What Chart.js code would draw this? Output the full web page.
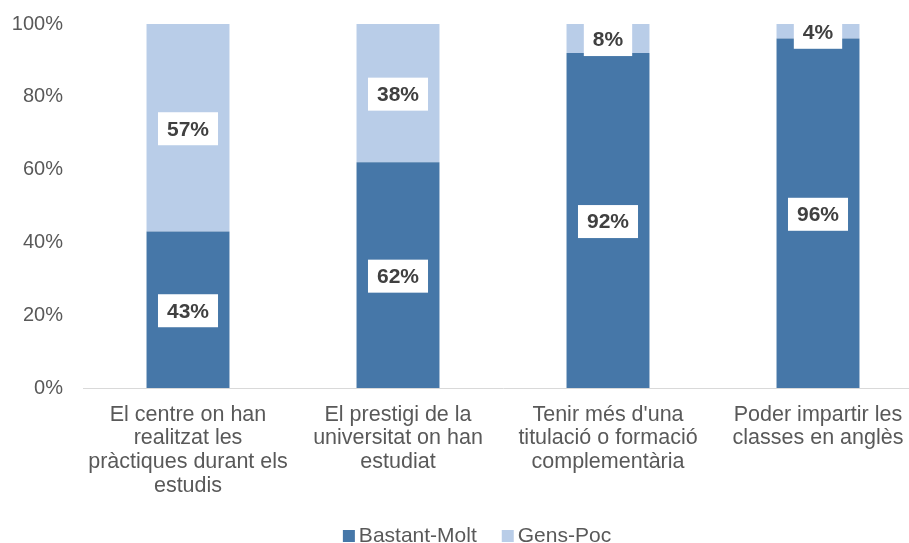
<!DOCTYPE html>
<html>
<head>
<meta charset="utf-8">
<script src="https://cdn.jsdelivr.net/npm/chart.js@4/dist/chart.umd.min.js"></script>
<style>
  html, body { margin: 0; padding: 0; background: #fff; overflow: hidden; }
  #wrap { width: 954px; height: 543px; position: relative; }
</style>
</head>
<body>
<div id="wrap"><canvas id="chart"></canvas></div>
<script>
// dades del gràfic
const categories = [
  ['El centre on han', 'realitzat les', 'pràctiques durant els', 'estudis'],
  ['El prestigi de la', 'universitat on han', 'estudiat'],
  ["Tenir més d'una", 'titulació o formació', 'complementària'],
  ['Poder impartir les', 'classes en anglès']
];
const bastantMolt = [43, 62, 92, 96];
const gensPoc = [57, 38, 8, 4];
const yTicks = [0, 20, 40, 60, 80, 100];

const FONT = 'Liberation Sans, Arial, sans-serif';

// etiquetes blanques amb el percentatge al mig de cada tram
const boxLabels = {
  id: 'boxLabels',
  afterDatasetsDraw(chart) {
    const ctx = chart.ctx;
    ctx.save();
    ctx.font = 'bold 21px ' + FONT;
    ctx.textAlign = 'center';
    ctx.textBaseline = 'middle';
    chart.data.datasets.forEach((ds, i) => {
      chart.getDatasetMeta(i).data.forEach((bar, j) => {
        const txt = ds.data[j] + '%';
        const cy = (bar.y + bar.base) / 2 + 1;
        const w = ctx.measureText(txt).width + 18;
        const h = 33;
        ctx.fillStyle = '#ffffff';
        ctx.fillRect(bar.x - w / 2, cy - h / 2, w, h);
        ctx.fillStyle = '#404040';
        ctx.fillText(txt, bar.x, cy + 1);
      });
    });
    ctx.restore();
  }
};

// llegenda a baix, dibuixada a mà per tenir l'espai estret entre quadre i text
const bottomLegend = {
  id: 'bottomLegend',
  afterDraw(chart) {
    const ctx = chart.ctx;
    ctx.save();
    ctx.font = '21px ' + FONT;
    ctx.textBaseline = 'middle';
    const box = 12, gap = 4, between = 25;
    const items = chart.data.datasets.map(ds => ({
      label: ds.label, color: ds.backgroundColor, w: box + gap + ctx.measureText(ds.label).width
    }));
    const total = items.reduce((s, it) => s + it.w, 0) + between * (items.length - 1);
    let x = chart.width / 2 - total / 2;
    const cy = 536;
    items.forEach(it => {
      ctx.fillStyle = it.color;
      ctx.fillRect(x, cy - box / 2, box, box);
      ctx.fillStyle = '#595959';
      ctx.fillText(it.label, x + box + gap, cy);
      x += it.w + between;
    });
    ctx.restore();
  }
};

new Chart(document.getElementById('chart'), {
  type: 'bar',
  data: {
    labels: categories,
    datasets: [
      { label: 'Bastant-Molt', data: bastantMolt, backgroundColor: '#4677a8' },
      { label: 'Gens-Poc', data: gensPoc, backgroundColor: '#b9cde8' }
    ]
  },
  options: {
    responsive: true,
    maintainAspectRatio: false,
    animation: false,
    layout: { padding: { top: 24, right: 31, left: 0, bottom: 40 } },
    datasets: { bar: { categoryPercentage: 1, barPercentage: 0.395 } },
    scales: {
      x: {
        stacked: true,
        grid: { display: false },
        border: { color: '#d9d9d9', width: 1 },
        ticks: { color: '#595959', font: { family: FONT, size: 21.5, lineHeight: 1.1 }, maxRotation: 0, padding: 7 },
        afterFit(scale) { scale.height = 115; scale.paddingTop = 0; scale.paddingBottom = 0; }
      },
      y: {
        stacked: true,
        min: 0,
        max: 100,
        grid: { display: false, drawTicks: false },
        border: { display: false },
        afterBuildTicks(scale) { scale.ticks = yTicks.map(v => ({ value: v })); },
        ticks: { color: '#595959', font: { family: FONT, size: 20 }, padding: 20, callback: v => v + '%' },
        afterFit(scale) { scale.width = 83; scale.paddingTop = 0; scale.paddingBottom = 0; }
      }
    },
    plugins: {
      legend: { display: false },
      tooltip: { enabled: false }
    }
  },
  plugins: [boxLabels, bottomLegend]
});
</script>
</body>
</html>
